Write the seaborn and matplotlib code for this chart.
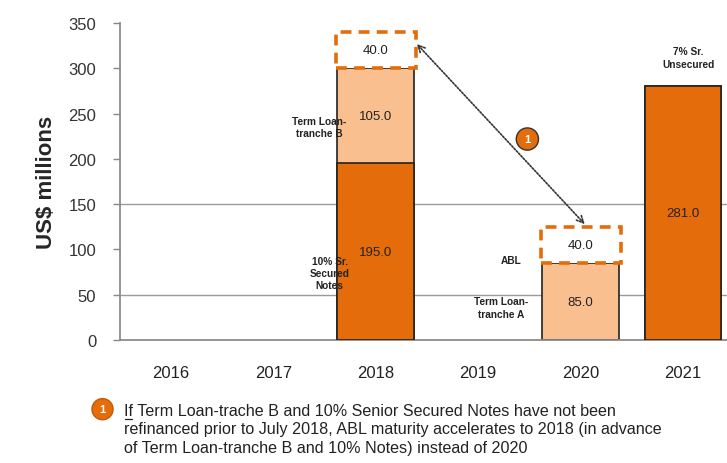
import numpy as np
import pandas as pd
import matplotlib
matplotlib.use("Agg")
from matplotlib import pyplot as plt
from matplotlib.lines import Line2D
import seaborn as sns

# data (US$ millions)
years = ["2016", "2017", "2018", "2019", "2020", "2021"]
dark_vals = [0, 0, 195.0, 0, 0, 281.0]      # 10% Sr. Secured Notes / 7% Sr. Unsecured
light_vals = [0, 0, 105.0, 0, 85.0, 0]      # Term Loan tranche B / tranche A
abl_vals = [0, 0, 40.0, 0, 40.0, 0]         # ABL (dashed boxes)
yticks = [0, 50, 100, 150, 200, 250, 300, 350]

footnote = ("If Term Loan-trache B and 10% Senior Secured Notes have not been\n"
            "refinanced prior to July 2018, ABL maturity accelerates to 2018 (in advance\n"
            "of Term Loan-tranche B and 10% Notes) instead of 2020")

dark = "#E46C0A"
light = "#F9BF8F"

sns.set_theme(style="white")
plt.rcParams["font.family"] = ["Liberation Sans", "DejaVu Sans"]

df = pd.DataFrame({"year": years, "dark": dark_vals, "light": light_vals, "abl": abl_vals})
df["stack"] = df["dark"] + df["light"]
# empty years get no bar at all (otherwise a flat edge line shows)
plot_df = df.replace(0, np.nan)

fig = plt.figure(figsize=(7.27, 4.64), dpi=100)
ax = fig.add_axes([0.165, 0.265, 0.835, 0.683])

# gridlines drawn first so the bars sit on top
for g in [50, 150]:
    ax.axhline(g, color="#9a9a9a", lw=1, zorder=0)

# stacked bars: total first, then bottom layer over it
sns.barplot(data=plot_df, x="year", y="stack", order=years, color=light, saturation=1, width=0.75,
            edgecolor="#222222", linewidth=1.2, ax=ax, zorder=2)
sns.barplot(data=plot_df, x="year", y="dark", order=years, color=dark, saturation=1, width=0.75,
            edgecolor="#222222", linewidth=1.2, ax=ax, zorder=3)

# dashed ABL boxes on top of the stacks
xpos = np.arange(len(years))
mask = (df["abl"] > 0).to_numpy()
ax.bar(xpos[mask], df["abl"][mask], bottom=df["stack"][mask], width=0.78,
       facecolor="white", edgecolor=dark, linewidth=2.6, linestyle=(0, (3, 2)), zorder=4)

# value labels
for i, r in df.iterrows():
    if r["dark"] > 0:
        ax.text(i, r["dark"] / 2, f"{r['dark']:.1f}",
                ha="center", va="center", fontsize=9.5, color="#222", zorder=5)
    if r["light"] > 0:
        ax.text(i, r["dark"] + r["light"] / 2, f"{r['light']:.1f}",
                ha="center", va="center", fontsize=9.5, color="#222", zorder=5)
    if r["abl"] > 0:
        ax.text(i, r["stack"] + r["abl"] / 2, f"{r['abl']:.1f}",
                ha="center", va="center", fontsize=9.5, color="#222", zorder=5)

# segment names
seg_kw = dict(ha="center", va="center", fontsize=7.3, fontweight="bold", color="#222", linespacing=1.3)
ax.text(1.45, 235, "Term Loan-\ntranche B", **seg_kw)
ax.text(1.55, 74, "10% Sr.\nSecured\nNotes", **seg_kw)
ax.text(3.32, 88, "ABL", **seg_kw)
ax.text(3.22, 36, "Term Loan-\ntranche A", **seg_kw)
ax.text(5.05, 312, "7% Sr.\nUnsecured", **seg_kw)

# double arrow between the two ABL boxes
ax.annotate("", xy=(2.4, 327), xytext=(4.04, 128),
            arrowprops=dict(arrowstyle="<->", linestyle=(0, (1, 1)), color="#333", lw=1.2,
                            shrinkA=0, shrinkB=0), zorder=6)
ax.text(3.48, 222, "1", ha="center", va="center", fontsize=8, color="white", fontweight="bold",
        bbox=dict(boxstyle="circle,pad=0.55", fc=dark, ec="#333", lw=1), zorder=6)

# axes styling
ax.set_xlim(-0.5, 5.43)
ax.set_ylim(0, 350)
ax.set_yticks(yticks)
ax.set_yticklabels([str(t) for t in yticks], fontsize=12, color="#333")
ax.set_xticks(xpos)
ax.set_xticklabels(years, fontsize=12, color="#222")
ax.tick_params(axis="x", length=0, pad=18)
ax.set_xticks([-0.5, 1.15, 1.97, 2.8], minor=True)
ax.tick_params(axis="x", which="minor", length=6, color="#888", width=1)
ax.tick_params(axis="y", length=5, color="#888", width=1, left=True, pad=12)
ax.set_xlabel("")
ax.set_ylabel("US$ millions", fontsize=16, fontweight="bold", labelpad=8)
for s in ["top", "right"]:
    ax.spines[s].set_visible(False)
ax.spines["left"].set_color("#888")
ax.spines["bottom"].set_color("#888")

# footnote
fig.text(0.141, 0.116, "1", ha="center", va="center", fontsize=8, color="white", fontweight="bold",
         bbox=dict(boxstyle="circle,pad=0.5", fc=dark, ec="#c55a05", lw=1))
fig.text(0.171, 0.130, footnote, ha="left", va="top", fontsize=11.6, color="#222", linespacing=1.3)
fig.add_artist(Line2D([0.172, 0.182], [0.094, 0.094], color="#222", lw=0.9))

fig.savefig("out.png", dpi=100)
